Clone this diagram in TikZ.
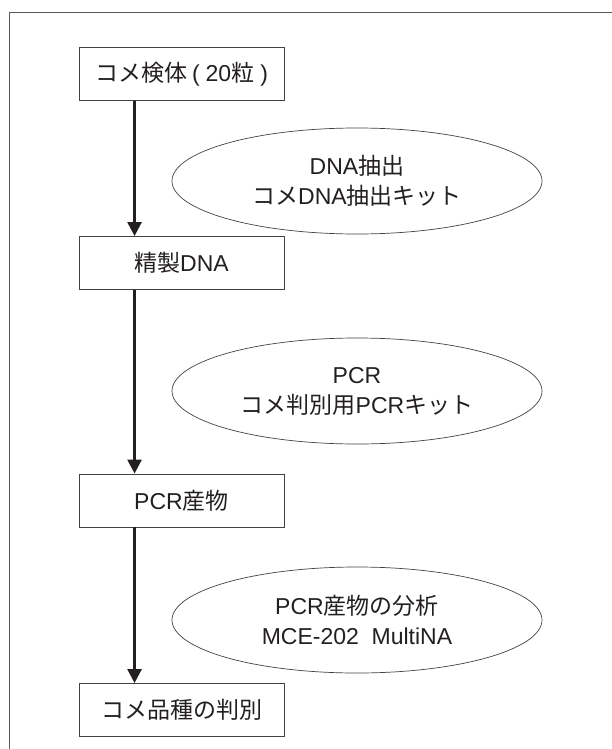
\documentclass[tikz,border=0pt]{standalone}
\usepackage{fontspec}
\setmainfont{Liberation Sans}
\newfontfamily\jp{Noto Sans CJK JP}
\newfontfamily\lat{Liberation Sans}
\usetikzlibrary{arrows.meta,shapes.geometric}
\definecolor{ink}{HTML}{231F20}
\tikzset{
  stepbox/.style={draw=ink!85, line width=0.9pt, minimum width=205pt, minimum height=53pt, inner sep=0pt, font=\fontsize{23}{26}\selectfont, text=ink},
  ell/.style={draw=ink!85, line width=0.7pt, ellipse, minimum width=370pt, minimum height=106pt, inner sep=0pt, align=center, font=\fontsize{23}{30}\selectfont, text=ink},
  arr/.style={draw=ink, line width=2.6pt, -{Triangle[width=14pt,length=14pt]}, shorten >=0pt},
  frame/.style={draw=ink!75, line width=1pt}
}
\begin{document}
\begin{tikzpicture}[x=1pt,y=-1pt]
\useasboundingbox (0,0) rectangle (612,749);
\draw[frame] (9,749) -- (9,13) -- (612,13);
\node[stepbox] (b1) at (181.5,74) {{\jp コメ検体}\hspace{5pt}{\lat (\hspace{6pt}20}{\jp 粒}{\lat \hspace{6pt})}};
\node[ell] (e1) at (357,181) {{\lat DNA}{\jp 抽出}\\{\jp コメ}{\lat DNA}{\jp 抽出キット}};
\node[stepbox] (b2) at (181.5,263) {{\jp 精製}{\lat DNA}};
\node[ell] (e2) at (357,391) {{\lat PCR}\\{\jp コメ判別用}{\lat PCR}{\jp キット}};
\node[stepbox] (b3) at (181.5,500.5) {{\lat PCR}{\jp 産物}};
\node[ell] (e3) at (357,620) {{\lat PCR}{\jp 産物の分析}\\{\lat MCE-202\ \ MultiNA}};
\node[stepbox] (b4) at (181.5,710) {{\jp コメ品種の判別}};
\draw[arr] ([xshift=56pt]b1.south west) -- ([xshift=56pt]b2.north west);
\draw[arr] ([xshift=56pt]b2.south west) -- ([xshift=56pt]b3.north west);
\draw[arr] ([xshift=56pt]b3.south west) -- ([xshift=56pt]b4.north west);
\end{tikzpicture}
\end{document}
